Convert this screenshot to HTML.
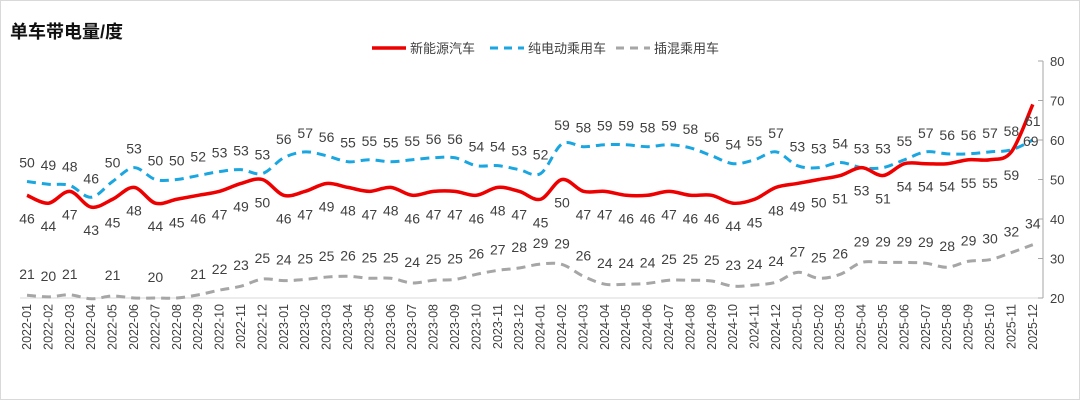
<!DOCTYPE html>
<html><head><meta charset="utf-8"><style>
html,body{margin:0;padding:0;background:#fff}
body{width:1080px;height:400px;overflow:hidden;font-family:"Liberation Sans","Noto Sans CJK SC",sans-serif}
</style></head><body>
<svg id="c" width="1080" height="400" xmlns="http://www.w3.org/2000/svg" font-family="Liberation Sans, Noto Sans CJK SC, sans-serif">
<rect x="0.5" y="0.5" width="1079" height="399" fill="#fff" stroke="#d9d9d9"/>
<text x="10" y="38" font-size="18" font-weight="bold" fill="#111">单车带电量/度</text>
<line x1="372" y1="48" x2="406" y2="48" stroke="#e00" stroke-width="3.5"/>
<text x="410" y="53" font-size="13" fill="#404040">新能源汽车</text>
<line x1="490" y1="48" x2="524" y2="48" stroke="#1aa6e0" stroke-width="3" stroke-dasharray="8,6"/>
<text x="528" y="53" font-size="13" fill="#404040">纯电动乘用车</text>
<line x1="616" y1="48" x2="650" y2="48" stroke="#a6a6a6" stroke-width="3" stroke-dasharray="8,6"/>
<text x="654" y="53" font-size="13" fill="#404040">插混乘用车</text>
<g id="g"></g>
</svg>
<script>
var g=document.getElementById('g'),ns='http://www.w3.org/2000/svg';
function X(i){return 27+i*21.4}
function Y(v){return 298-(v-20)*3.95}
function el(t,a,txt){var e=document.createElementNS(ns,t);for(var k in a)e.setAttribute(k,a[k]);if(txt!=null)e.textContent=txt;g.appendChild(e);return e}
el('line',{x1:20,y1:298,x2:1043,y2:298,stroke:'#d9d9d9','stroke-width':1});
el('line',{x1:1043,y1:61,x2:1043,y2:298,stroke:'#a6a6a6','stroke-width':1});
for(var v=20;v<=80;v+=10){el('line',{x1:1038,y1:Y(v),x2:1043,y2:Y(v),stroke:'#a6a6a6'});el('text',{x:1050,y:Y(v)+5,'font-size':13,fill:'#404040'},v);}
for(var i=0;i<48;i++){var y=2022+Math.floor(i/12),m=i%12+1;var s=y+'-'+(m<10?'0':'')+m;
el('text',{x:0,y:0,'font-size':12.5,fill:'#404040','text-anchor':'end',transform:'translate('+(X(i)+4)+',304) rotate(-90)'},s);}
var red=[46,44,47,43,45,48,44,45,46,47,49,50,46,47,49,48,47,48,46,47,47,46,48,47,45,50,47,47,46,46,47,46,46,44,45,48,49,50,51,53,51,54,54,54,55,55,59,69];
var redLine=red.slice();redLine[46]=57;
var blue=[50,49,48,46,50,53,50,50,52,53,53,53,56,57,56,55,55,55,55,56,56,54,54,53,52,59,58,59,59,58,59,58,56,54,55,57,53,53,54,53,53,55,57,56,56,57,58,61];
var blueLine=[49.5,48.8,48.5,45.5,49.5,53,50,50,51,52,52.5,51.5,55.5,57,56,54.5,55,54.5,55,55.5,55.5,53.5,53.5,52.5,51.5,59,58.3,58.8,58.8,58.3,58.8,58,56,54,55,57,53.5,53,54.3,53,53,55,57,56.5,56.5,57,57.5,60];
var gray=[21,20,21,20,21,20,20,20,21,22,23,25,24,25,25,26,25,25,24,25,25,26,27,28,29,29,26,24,24,24,25,25,25,23,24,24,27,25,26,29,29,29,29,28,29,30,32,34];
var grayLine=[20.7,20.3,20.8,19.8,20.5,20,20,20,20.8,22,23,24.8,24.4,24.7,25.3,25.5,25,25,23.8,24.5,24.7,26,27,27.6,28.6,28.5,25.5,23.5,23.5,23.7,24.5,24.5,24.3,23,23.3,24,26.5,25,26,29,29,29,28.8,27.8,29.3,29.7,31.5,33.5];
function path(d){var p=d.map(function(v,i){return[X(i),Y(v)]});var s='M'+p[0][0]+','+p[0][1];
for(var i=0;i<p.length-1;i++){var a=p[i-1]||p[i],b=p[i],c=p[i+1],e=p[i+2]||c;var t=6;
s+=' C'+(b[0]+(c[0]-a[0])/t)+','+(b[1]+(c[1]-a[1])/t)+' '+(c[0]-(e[0]-b[0])/t)+','+(c[1]-(e[1]-b[1])/t)+' '+c[0]+','+c[1];}return s}
el('path',{d:path(grayLine),fill:'none',stroke:'#a6a6a6','stroke-width':3,'stroke-dasharray':'9,6'});
el('path',{d:path(blueLine),fill:'none',stroke:'#1aa6e0','stroke-width':3,'stroke-dasharray':'9,6'});
el('path',{d:path(redLine),fill:'none',stroke:'#e00','stroke-width':3.5});
var skip={3:1,5:1,7:1};
for(var i=0;i<48;i++){
 el('text',{x:X(i),y:Y(blueLine[i])-14,'font-size':14,fill:'#404040','text-anchor':'middle'},blue[i]);
 var ry=Y(redLine[i])+28; if(i==47){ry=Y(61)+10;}
 el('text',{x:X(i)+(i==47?-2:0),y:ry,'font-size':14,fill:'#404040','text-anchor':'middle'},red[i]);
 if(!skip[i])el('text',{x:X(i),y:Y(grayLine[i])-16,'font-size':14,fill:'#404040','text-anchor':'middle'},gray[i]);
}
</script>
</body></html>
